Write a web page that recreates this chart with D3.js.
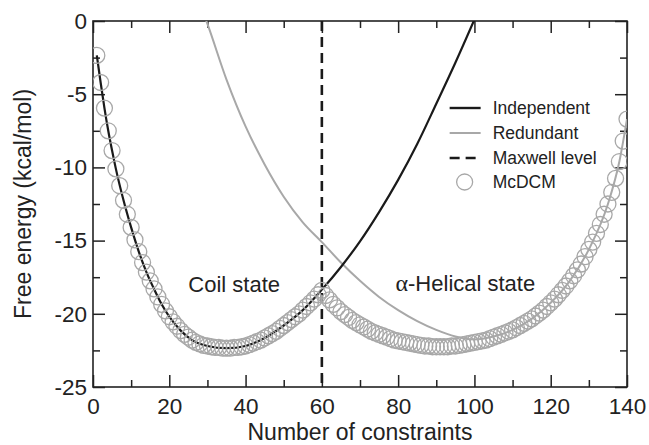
<!DOCTYPE html>
<html>
<head>
    <title>Free energy vs constraints</title>
    <script src="https://d3js.org/d3.v7.min.js"></script>
    <style>
        body { margin: 0; background: #fff; }
        text { font-family: "Liberation Sans", Arial, sans-serif; fill: #222; }
        .axis-title { font-size: 23px; }
        .legend text { font-size: 17.5px; }
        .note { font-size: 22px; }
    </style>
</head>
<body>
    <div id="chart"></div>
    <script>
        // McDCM points, n = 1..140
        const mcdcmN = d3.range(1, 141);
        const mcdcmF = [
            -2.35, -4.2, -5.95, -7.5, -8.85, -10.1, -11.25, -12.25, -13.2, -14.1,
            -14.95, -15.75, -16.5, -17.15, -17.75, -18.3, -18.85, -19.35, -19.8, -20.2,
            -20.55, -20.85, -21.15, -21.4, -21.6, -21.8, -21.95, -22.05, -22.15, -22.2,
            -22.25, -22.3, -22.3, -22.35, -22.35, -22.35, -22.3, -22.3, -22.25, -22.2,
            -22.1, -22.0, -21.9, -21.8, -21.65, -21.5, -21.35, -21.2, -21.0, -20.8,
            -20.6, -20.4, -20.2, -20.0, -19.75, -19.5, -19.25, -19.0, -18.7, -18.4,
            -18.75, -19.05, -19.35, -19.6, -19.85, -20.05, -20.25, -20.45, -20.6, -20.75,
            -20.9, -21.05, -21.2, -21.3, -21.4, -21.5, -21.6, -21.7, -21.8, -21.85,
            -21.9, -21.95, -22.0, -22.05, -22.1, -22.15, -22.2, -22.2, -22.25, -22.25,
            -22.25, -22.25, -22.25, -22.2, -22.2, -22.15, -22.1, -22.05, -22.0, -21.95,
            -21.9, -21.85, -21.8, -21.7, -21.6, -21.5, -21.4, -21.3, -21.2, -21.1,
            -20.95, -20.8, -20.65, -20.5, -20.35, -20.15, -19.95, -19.75, -19.5, -19.25,
            -19.0, -18.7, -18.4, -18.1, -17.75, -17.4, -17.0, -16.6, -16.1, -15.6,
            -15.1, -14.5, -13.9, -13.2, -12.5, -11.7, -10.75, -9.6, -8.2, -6.7
        ];

        // Independent (black) curve
        const indepN = [1, 2, 3, 4, 5, 6, 8, 10, 12, 14, 16, 18, 20, 23, 26, 30, 35, 40, 45, 50, 55, 60, 65, 70, 75, 80, 85, 90, 95, 100, 101];
        const indepF = [-2.35, -4.2, -5.95, -7.5, -8.85, -10.1, -12.25, -14.1, -15.75, -17.15, -18.3, -19.35, -20.2, -21.15, -21.8, -22.2, -22.35, -22.2, -21.65, -20.8, -19.75, -18.35, -16.8, -15.05, -13.05, -10.85, -8.4, -5.65, -2.85, 0.1, 0.7];

        // Redundant (grey) curve
        const redN = [29, 30, 35, 40, 45, 50, 55, 60, 65, 70, 75, 80, 85, 90, 95, 100, 105, 110, 115, 120, 125, 130, 135, 138, 140];
        const redF = [0.5, -0.2, -4.0, -7.2, -9.8, -12.0, -13.75, -15.1, -16.5, -17.75, -18.85, -19.75, -20.5, -21.1, -21.55, -21.75, -21.55, -21.1, -20.35, -19.25, -17.75, -15.6, -12.5, -9.6, -6.7];

        const maxwellN = 60;

        const xTicks = [0, 20, 40, 60, 80, 100, 120, 140];
        const yTicks = [0, -5, -10, -15, -20, -25];

        const legendItems = ["Independent", "Redundant", "Maxwell level", "McDCM"];

        const W = 649, H = 445;
        const margin = {top: 21, right: 22, bottom: 58, left: 93};
        const width = W - margin.left - margin.right;
        const height = H - margin.top - margin.bottom;

        const svg = d3.select("#chart").append("svg")
            .attr("width", W)
            .attr("height", H);

        const g = svg.append("g")
            .attr("transform", `translate(${margin.left},${margin.top})`);

        const x = d3.scaleLinear().domain([0, 140]).range([0, width]);
        const y = d3.scaleLinear().domain([-25, 0]).range([height, 0]);

        g.append("clipPath").attr("id", "plot")
            .append("rect").attr("width", width).attr("height", height);

        // axes: inward ticks on all four sides
        const minorX = d3.range(10, 140, 20);
        const minorY = d3.range(-22.5, 0, 5);

        function addAxis(axis, tr, major, minor, labels) {
            const a = g.append("g").attr("transform", tr)
                .call(axis.tickValues(major).tickSize(-12).tickPadding(labels ? 6 : 0)
                    .tickFormat(labels ? d => String(d) : ""));
            a.select(".domain").remove();
            a.selectAll("line").attr("stroke", "#222").attr("stroke-width", 1.5);
            const b = g.append("g").attr("transform", tr)
                .call(axis.tickValues(minor).tickSize(-7).tickFormat(""));
            b.select(".domain").remove();
            b.selectAll("line").attr("stroke", "#222").attr("stroke-width", 1.5);
            return a;
        }
        const xb = addAxis(d3.axisBottom(x), `translate(0,${height})`, xTicks, minorX, true);
        xb.selectAll("text").attr("dy", "0.95em").attr("font-size", 22.5).attr("fill", "#222");
        addAxis(d3.axisTop(x), "translate(0,0)", xTicks, minorX, false);
        const yl = addAxis(d3.axisLeft(y), "translate(0,0)", yTicks, minorY, true);
        yl.selectAll("text").attr("font-size", 22.5).attr("fill", "#222");
        addAxis(d3.axisRight(y), `translate(${width},0)`, yTicks, minorY, false);

        g.append("rect")
            .attr("width", width).attr("height", height)
            .attr("fill", "none").attr("stroke", "#222").attr("stroke-width", 1.6);

        // curves
        const line = d3.line().x(d => x(d[0])).y(d => y(d[1])).curve(d3.curveMonotoneX);
        const plot = g.append("g").attr("clip-path", "url(#plot)");

        plot.append("path")
            .datum(d3.zip(redN, redF))
            .attr("d", line)
            .attr("fill", "none").attr("stroke", "#a8a8a8").attr("stroke-width", 2);

        plot.append("path")
            .datum(d3.zip(indepN, indepF))
            .attr("d", line)
            .attr("fill", "none").attr("stroke", "#1a1a1a").attr("stroke-width", 2.2);

        plot.append("line")
            .attr("x1", x(maxwellN)).attr("x2", x(maxwellN))
            .attr("y1", 0).attr("y2", height)
            .attr("stroke", "#1a1a1a").attr("stroke-width", 2.6)
            .attr("stroke-dasharray", "10,6");

        plot.append("g").selectAll("circle")
            .data(d3.zip(mcdcmN, mcdcmF))
            .join("circle")
            .attr("cx", d => x(d[0])).attr("cy", d => y(d[1]))
            .attr("r", 8)
            .attr("fill", "none").attr("stroke", "#a8a8a8").attr("stroke-width", 1.3);

        // state labels
        g.append("text").attr("class", "note")
            .attr("x", x(25)).attr("y", y(-18.5))
            .text("Coil state");
        const hel = g.append("text").attr("class", "note")
            .attr("x", x(79.3)).attr("y", y(-18.45));
        hel.append("tspan").attr("font-family", "'Liberation Serif', 'DejaVu Serif', serif")
            .attr("font-size", 24).text("α");
        hel.append("tspan").text("-Helical state");

        // legend
        const lg = g.append("g").attr("class", "legend")
            .attr("transform", `translate(${x(93.5)},0)`);
        const rowY = [87, 112, 137, 161];
        legendItems.forEach((name, i) => {
            const row = lg.append("g").attr("transform", `translate(0,${rowY[i]})`);
            if (i === 3) {
                row.append("circle").attr("cx", 15).attr("r", 8)
                    .attr("fill", "none").attr("stroke", "#a8a8a8").attr("stroke-width", 1.3);
            } else {
                row.append("line").attr("x1", 0).attr("x2", 31)
                    .attr("stroke", i === 1 ? "#a8a8a8" : "#1a1a1a")
                    .attr("stroke-width", i === 1 ? 2 : 2.4)
                    .attr("stroke-dasharray", i === 2 ? "10,6" : null);
            }
            row.append("text").attr("x", 43).attr("dy", "0.35em").text(name);
        });

        // axis titles
        svg.append("text").attr("class", "axis-title")
            .attr("x", margin.left + width / 2).attr("y", 440)
            .attr("text-anchor", "middle")
            .text("Number of constraints");
        svg.append("text").attr("class", "axis-title")
            .attr("transform", `translate(31,${margin.top + height / 2}) rotate(-90)`)
            .attr("text-anchor", "middle")
            .text("Free energy (kcal/mol)");
    </script>
</body>
</html>
